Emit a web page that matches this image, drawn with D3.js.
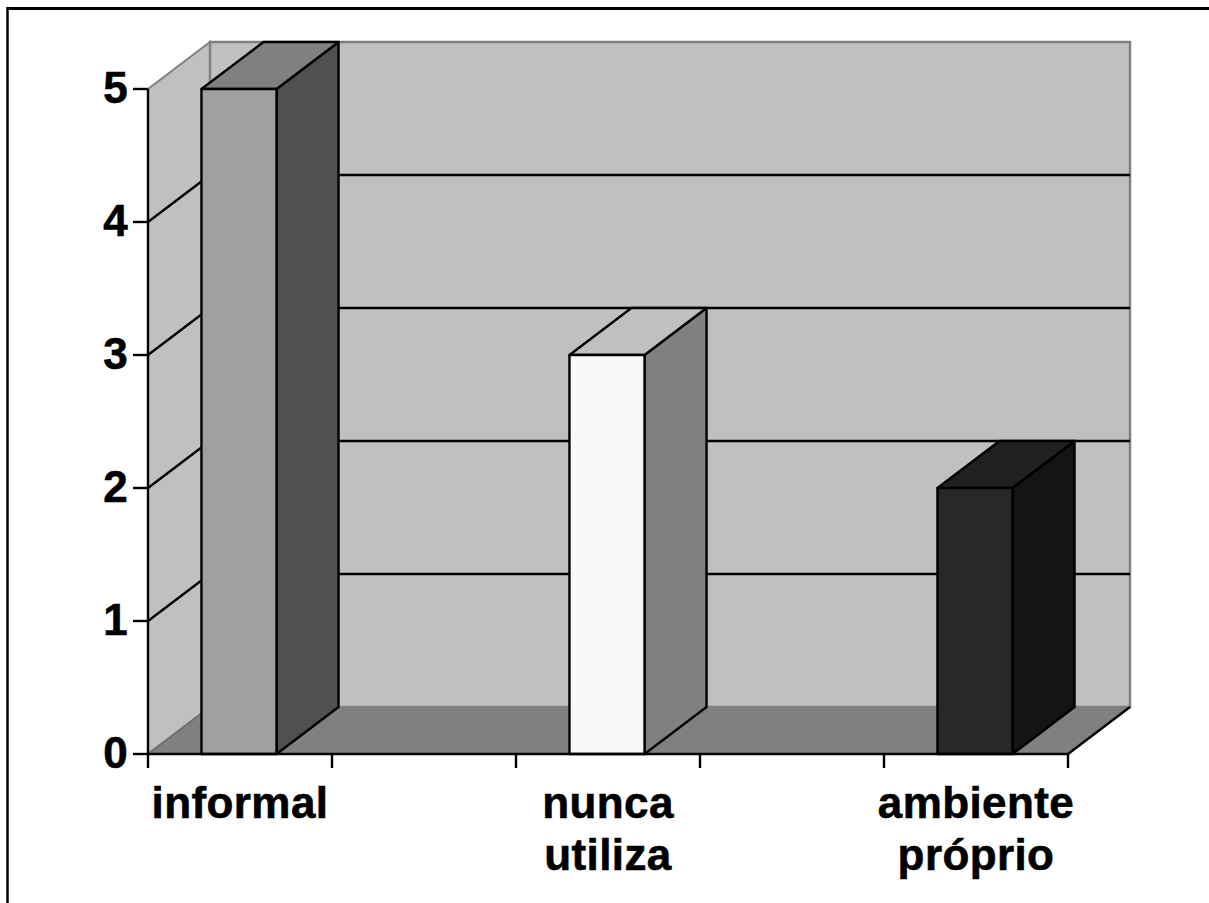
<!DOCTYPE html>
<html>
<head>
<meta charset="utf-8">
<script src="https://cdn.jsdelivr.net/npm/d3@7"></script>
<style>
  html, body { margin: 0; padding: 0; background: #ffffff; }
  svg { display: block; }
  text { font-family: "Liberation Sans", Arial, sans-serif; font-weight: bold; fill: #000;
         stroke: #000; stroke-width: 0.6px; letter-spacing: 0.4px; }
</style>
</head>
<body>
<svg id="chart" width="1209" height="903"></svg>
<script>
// Category slots along the x axis (every other slot carries no bar or label)
const categories = ["informal", "", "nunca utiliza", "", "ambiente próprio"];
const values = [5, null, 3, null, 2];
const frontColors = ["#a0a0a0", null, "#f8f8f8", null, "#282828"];
const sideColors  = ["#505050", null, "#808080", null, "#141414"];
const topColors   = ["#808080", null, "#c0c0c0", null, "#202020"];
const yTicks = [0, 1, 2, 3, 4, 5];

const svg = d3.select("#chart");
const W = 1209, H = 903;
const LW = 2.4;

// Frame around the picture (top and left edges)
svg.append("line").attr("x1", 7).attr("x2", W).attr("y1", 8.5).attr("y2", 8.5)
  .attr("stroke", "#000").attr("stroke-width", 3);
svg.append("line").attr("x1", 7.5).attr("x2", 7.5).attr("y1", 7).attr("y2", H)
  .attr("stroke", "#000").attr("stroke-width", 2.5);

// Scales (front plane) and the oblique depth offset
const x = d3.scaleBand().domain(d3.range(categories.length))
  .range([148, 1068]).paddingInner(0.592).paddingOuter(0.296);
const y = d3.scaleLinear().domain([0, 5]).range([754, 89]);
const DX = 62, DY = -47;
const x0 = x.range()[0], x1 = x.range()[1];
const yMax = y(5), yMin = y(0);

const pts = a => a.map(p => p.join(",")).join(" ");

// Side wall
svg.append("polygon")
  .attr("points", pts([[x0, yMin], [x0, yMax], [x0 + DX, yMax + DY], [x0 + DX, yMin + DY]]))
  .attr("fill", "#c0c0c0").attr("stroke", "#808080").attr("stroke-width", 2);
// Back wall
svg.append("polygon")
  .attr("points", pts([[x0 + DX, yMin + DY], [x0 + DX, yMax + DY], [x1 + DX, yMax + DY], [x1 + DX, yMin + DY]]))
  .attr("fill", "#c0c0c0").attr("stroke", "#808080").attr("stroke-width", 2.5);

// Gridlines on the side and back walls
const grid = yTicks.filter(v => v > 0 && v < 5);
svg.append("g").selectAll("path").data(grid).join("path")
  .attr("d", v => `M${x0},${y(v)}L${x0 + DX},${y(v) + DY}L${x1 + DX},${y(v) + DY}`)
  .attr("fill", "none").attr("stroke", "#000").attr("stroke-width", LW);

// Floor
svg.append("polygon")
  .attr("points", pts([[x0, yMin], [x0 + DX, yMin + DY], [x1 + DX, yMin + DY], [x1, yMin]]))
  .attr("fill", "#808080").attr("stroke", "none");
svg.append("line").attr("x1", x0).attr("y1", yMin).attr("x2", x0 + DX).attr("y2", yMin + DY)
  .attr("stroke", "#707070").attr("stroke-width", 2);
svg.append("line").attr("x1", x1).attr("y1", yMin).attr("x2", x1 + DX).attr("y2", yMin + DY)
  .attr("stroke", "#000").attr("stroke-width", LW);

// 3D columns
const bars = svg.append("g");
categories.forEach((c, i) => {
  const v = values[i];
  if (v == null) return;
  const bx = x(i) - 1, bw = x.bandwidth(), top = y(v), bot = y(0);
  const g = bars.append("g").attr("stroke", "#000").attr("stroke-width", LW)
    .attr("stroke-linejoin", "round");
  // side face
  g.append("polygon")
    .attr("points", pts([[bx + bw, bot], [bx + bw, top], [bx + bw + DX, top + DY], [bx + bw + DX, bot + DY]]))
    .attr("fill", sideColors[i]);
  // top face
  g.append("polygon")
    .attr("points", pts([[bx, top], [bx + DX, top + DY], [bx + bw + DX, top + DY], [bx + bw, top]]))
    .attr("fill", topColors[i]);
  // front face
  g.append("rect").attr("x", bx).attr("y", top).attr("width", bw).attr("height", bot - top)
    .attr("fill", frontColors[i]);
});

// Y axis
svg.append("line").attr("x1", x0).attr("x2", x0).attr("y1", yMax).attr("y2", yMin)
  .attr("stroke", "#000").attr("stroke-width", LW);
const yAx = svg.append("g");
yAx.selectAll("line").data(yTicks).join("line")
  .attr("x1", x0 - 15).attr("x2", x0).attr("y1", d => y(d)).attr("y2", d => y(d))
  .attr("stroke", "#000").attr("stroke-width", LW);
yAx.selectAll("text").data(yTicks).join("text")
  .attr("x", x0 - 20).attr("y", d => y(d) + 14)
  .attr("text-anchor", "end").attr("font-size", 44)
  .text(d => d);

// X axis
svg.append("line").attr("x1", x0).attr("x2", x1).attr("y1", yMin).attr("y2", yMin)
  .attr("stroke", "#000").attr("stroke-width", LW);
const step = x.step();
svg.append("g").selectAll("line").data(d3.range(categories.length + 1)).join("line")
  .attr("x1", i => x0 + i * step).attr("x2", i => x0 + i * step)
  .attr("y1", yMin).attr("y2", yMin + 14)
  .attr("stroke", "#000").attr("stroke-width", LW);

const labels = svg.append("g");
categories.forEach((c, i) => {
  if (!c) return;
  const cx = x(i) + x.bandwidth() / 2;
  const t = labels.append("text").attr("text-anchor", "middle").attr("font-size", 44);
  c.split(" ").forEach((w, k) => {
    t.append("tspan").attr("x", cx).attr("y", 818 + k * 52).text(w);
  });
});
</script>
</body>
</html>
